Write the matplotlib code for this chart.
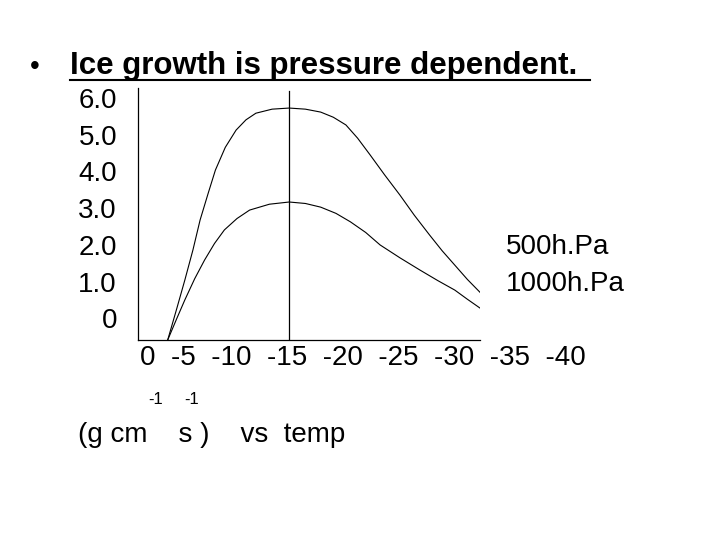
import matplotlib.pyplot as plt
from matplotlib.lines import Line2D

# growth rate curves (temperature shown as positive degrees below 0 C)
temp_500 = [0, 1.0, 1.9, 2.8, 3.6, 4.5, 5.3, 6.4, 7.6, 8.7, 9.8, 11.6, 13.5, 15.3, 17.0,
             18.4, 19.8, 21.1, 22.5, 24.1, 25.8, 27.4, 29.1, 30.5, 31.9, 33.3, 34.7]
rate_500 = [0, 0.85, 1.63, 2.45, 3.27, 4.0, 4.63, 5.25, 5.72, 6.0, 6.18, 6.29, 6.32, 6.29, 6.21,
            6.07, 5.86, 5.50, 5.04, 4.50, 3.95, 3.40, 2.86, 2.43, 2.04, 1.65, 1.30]
temp_1000 = [0, 1.0, 1.9, 3.0, 4.1, 5.2, 6.3, 7.7, 9.1, 11.3, 13.5, 15.3, 17.0, 18.7, 20.3,
             22.0, 23.6, 25.8, 28.0, 30.0, 31.9, 33.3, 34.7]
rate_1000 = [0, 0.58, 1.09, 1.67, 2.18, 2.63, 3.00, 3.31, 3.54, 3.70, 3.76, 3.72, 3.62, 3.45, 3.22,
             2.93, 2.59, 2.24, 1.91, 1.62, 1.36, 1.11, 0.87]
peak_temp = 13.5

y_labels = ['6.0', '5.0', '4.0', '3.0', '2.0', '1.0', '0']
x_labels = '0  -5  -10  -15  -20  -25  -30  -35  -40'

plt.rcParams['font.family'] = ['Liberation Sans', 'DejaVu Sans']
W, H = 720, 540
fig = plt.figure(figsize=(7.2, 5.4), dpi=100)

def fx(px): return px / W
def fy(py): return 1 - py / H

ax = fig.add_axes([fx(138), fy(340), 342 / W, 252 / H])
ax.plot(temp_500, rate_500, color='black', lw=0.8)
ax.plot(temp_1000, rate_1000, color='black', lw=0.8)
ax.axvline(peak_temp, ymax=0.99, color='black', lw=0.9)
ax.set_xlim(-3.3, 34.7)
ax.set_ylim(0, 252 / 36.7)
for s in ['top', 'right']:
    ax.spines[s].set_visible(False)
for s in ['left', 'bottom']:
    ax.spines[s].set_linewidth(0.9)
ax.set_xticks([])
ax.set_yticks([])

fs = 20
fig.text(fx(30), fy(67), '•', fontsize=fs, va='center')
fig.text(fx(70), fy(66), 'Ice growth is pressure dependent.', fontsize=22.5,
         fontweight='bold', va='center')
fig.add_artist(Line2D([fx(70), fx(590)], [fy(80), fy(80)], color='black', lw=1.5))

for i, lab in enumerate(y_labels):
    fig.text(fx(117), fy(101 + i * 36.7), lab, fontsize=fs, ha='right', va='center')
fig.text(fx(140), fy(358), x_labels, fontsize=fs, va='center')
fig.text(fx(506), fy(247), '500h.Pa', fontsize=fs, va='center')
fig.text(fx(506), fy(284), '1000h.Pa', fontsize=fs, va='center')

fig.text(fx(148), fy(400), '-1', fontsize=12, va='center')
fig.text(fx(184), fy(400), '-1', fontsize=12, va='center')
fig.text(fx(78), fy(435), '(g cm    s )    vs  temp', fontsize=fs, va='center')

fig.savefig('out.png', dpi=100)
